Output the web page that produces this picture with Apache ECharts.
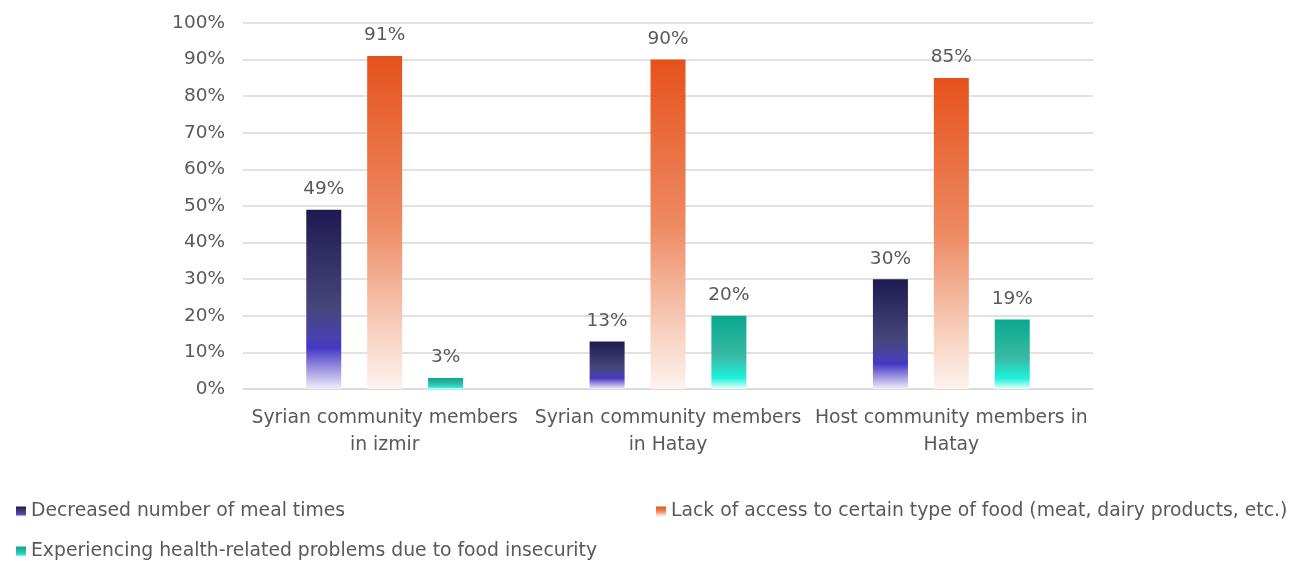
<!DOCTYPE html>
<html><head><meta charset="utf-8">
<script src="https://cdn.jsdelivr.net/npm/echarts@6/dist/echarts.min.js"></script>
<style>html,body{margin:0;padding:0;background:#fff}#c{width:1289px;height:561px}</style>
</head><body><div id="c"></div>
<script>
const categories = ['Syrian community members\nin izmir', 'Syrian community members\nin Hatay', 'Host community members in\nHatay'];
const seriesNames = ['Decreased number of meal times', 'Lack of access to certain type of food (meat, dairy products, etc.)', 'Experiencing health-related problems due to food insecurity'];
const mealTimes = [49, 13, 30];
const lackAccess = [91, 90, 85];
const healthProblems = [3, 20, 19];
const yTicks = [0, 10, 20, 30, 40, 50, 60, 70, 80, 90, 100];

function grad(stops) {
  return new echarts.graphic.LinearGradient(0, 0, 0, 1, stops.map(s => ({offset: s[0], color: s[1]})));
}
const colors = [
  grad([[0, '#1e1a50'], [0.55, '#47467a'], [0.72, '#4841b0'], [0.77, '#4536c4'], [1, '#f0eefa']]),
  grad([[0, '#e5521c'], [0.5, '#ee8a62'], [0.8, '#f7cbb8'], [1, '#fdf3ee']]),
  grad([[0, '#0aa88e'], [0.55, '#38b9a5'], [0.85, '#1ef2da'], [1, '#e8fffb']])
];
const data = [mealTimes, lackAccess, healthProblems];
const txt = '#595959';
const font = 'DejaVu Sans';

const option = {
  animation: false,
  grid: {left: 243, right: 196, top: 23, bottom: 172},
  xAxis: {
    type: 'category', data: categories,
    axisLine: {lineStyle: {color: '#d9d9d9', width: 1.5}},
    axisTick: {show: false},
    axisLabel: {color: txt, fontSize: 18.8, fontFamily: font, lineHeight: 27, margin: 16, interval: 0}
  },
  yAxis: {
    type: 'value', min: 0, max: 100, interval: 10,
    axisLabel: {color: txt, fontSize: 18.5, fontFamily: font, margin: 18,
      formatter: v => yTicks.includes(v) ? v + '%' : ''},
    splitLine: {lineStyle: {color: '#d9d9d9', width: 1.5}},
    axisLine: {show: false}, axisTick: {show: false}
  },
  legend: [0, 1, 2].map(i => ({
    data: [seriesNames[i]],
    left: [11, 651, 11][i], top: [497, 497, 537][i],
    itemWidth: 10, itemHeight: 10, itemGap: 6,
    icon: 'rect',
    textStyle: {color: txt, fontSize: 18.8, fontFamily: font}
  })),
  series: data.map((d, i) => ({
    name: seriesNames[i], type: 'bar', data: d,
    barWidth: 35, barGap: '74%', barCategoryGap: '44%',
    itemStyle: {color: colors[i]},
    label: {show: true, position: 'top', distance: 11, color: txt, fontSize: 18.5, fontFamily: font, formatter: '{c}%'}
  }))
};
echarts.init(document.getElementById('c')).setOption(option);
</script></body></html>
